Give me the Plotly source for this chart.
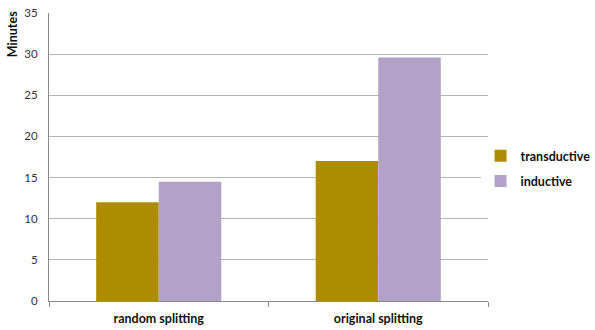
import plotly.graph_objects as go

categories = ["random splitting", "original splitting"]
transductive = [12.0, 17.0]
inductive = [14.5, 29.6]
y_ticks = [0, 5, 10, 15, 20, 25, 30, 35]

fig = go.Figure()
fig.add_trace(go.Bar(name="<b>transductive</b>", x=categories, y=transductive, legendgroup="a",
                     marker=dict(color="#AF8B00", line=dict(width=0))))
fig.add_trace(go.Bar(name="<b>inductive</b>", x=categories, y=inductive, legendgroup="b",
                     marker=dict(color="#B3A2C7", line=dict(width=0))))

fig.update_layout(
    width=595, height=330,
    margin=dict(l=49, r=107, t=13, b=29, autoexpand=False),
    paper_bgcolor="white", plot_bgcolor="white",
    barmode="group", bargap=0.43, bargroupgap=0,
    font=dict(family="Lato, Open Sans, sans-serif", size=11, color="#222"),
    showlegend=True,
    legend=dict(x=0.983, y=0.46, xanchor="left", yanchor="middle",
                font=dict(size=12.5, color="#111", family="Lato"),
                itemwidth=30, tracegroupgap=6, traceorder="grouped"),
    xaxis=dict(showline=True, linecolor="#8a8a8a", linewidth=1,
               ticks="outside", tickson="boundaries", ticklen=5, tickcolor="#8a8a8a",
               ticklabelstandoff=6,
               tickfont=dict(size=12.5, color="#111", family="Lato"),
               ticktext=["<b>" + c + "</b>" for c in categories], tickvals=categories,
               showgrid=False),
    yaxis=dict(range=[0, 35], tickvals=y_ticks, showline=True, linecolor="#8a8a8a",
               linewidth=1, showgrid=True, gridcolor="#b4b4b4", gridwidth=1,
               ticks="outside", ticklen=8, tickcolor="rgba(0,0,0,0)",
               tickfont=dict(size=11.5, color="#333", family="Lato"),
               zeroline=False),
)
fig.add_annotation(text="<b>Minutes</b>", textangle=-90, xref="paper", yref="paper",
                   x=-0.084, y=0.927, xanchor="center", yanchor="middle", showarrow=False,
                   font=dict(size=12.5, color="#111", family="Lato"))

fig.write_html("out.html")
